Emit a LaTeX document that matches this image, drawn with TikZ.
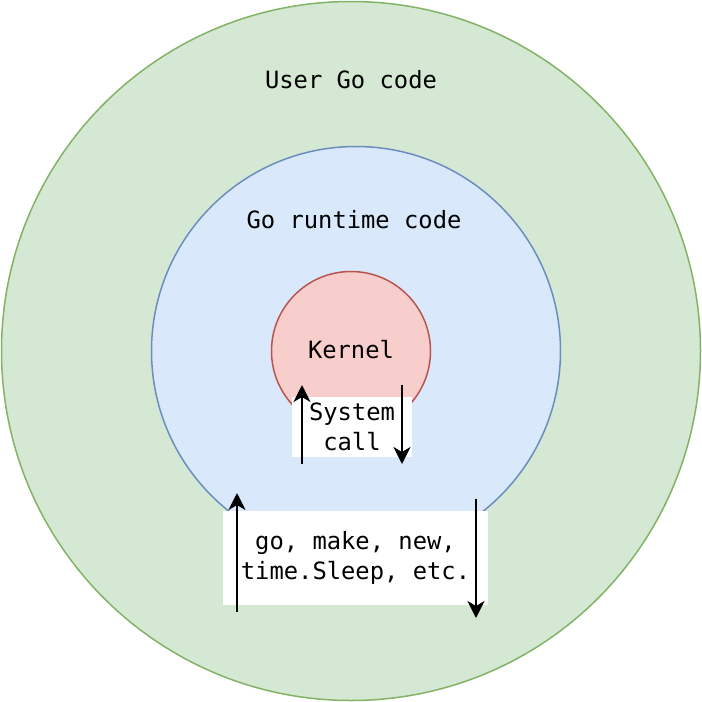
\documentclass[tikz,border=0pt]{standalone}
\usepackage{fontspec}
\setmonofont{DejaVu Sans Mono}
\usetikzlibrary{arrows.meta}

\definecolor{userfill}{HTML}{D5E8D4}
\definecolor{userline}{HTML}{82B366}
\definecolor{runfill}{HTML}{DAE8FC}
\definecolor{runline}{HTML}{6C8EBF}
\definecolor{kernfill}{HTML}{F8CECC}
\definecolor{kernline}{HTML}{B85450}

\tikzset{
    ring/.style={circle, draw, line width=1.5pt, inner sep=0pt},
    labelbox/.style={fill=white, inner sep=0pt, align=center},
    flow/.style={line width=2.2pt, -{Stealth[length=17pt, width=17pt, inset=5pt]}}
}

\begin{document}
\begin{tikzpicture}[x=1pt, y=-1pt, every node/.style={font=\ttfamily\fontsize{23.8}{30}\selectfont}]
    \useasboundingbox (0,0) rectangle (702,702);

    % Draw rings
    \node[ring, draw=userline, fill=userfill, minimum size=699pt] (user) at (351,351) {};
    \node[ring, draw=runline, fill=runfill, minimum size=409pt] (runtime) at (356,351) {};
    \node[ring, draw=kernline, fill=kernfill, minimum size=159pt] (kernel) at (351,351) {};

    % Ring labels
    \node (usertext) at (351,80) {User Go code};
    \node (runtimetext) at (354,220) {Go runtime code};
    \node (kerneltext) at (351,350) {Kernel};

    % Call boxes
    \node[labelbox, minimum width=120pt, minimum height=60pt] (sysbox) at (352,427) {System\\call};
    \node[labelbox, minimum width=265pt, minimum height=94pt] (gobox) at (355.5,558) {go, make, new,\\time.Sleep, etc.};

    % Call arrows
    \foreach \name/\x/\ya/\yb in {sysup/302/464/385, sysdown/402/385/464, goup/237/612/493, godown/476/499/618} {
        \coordinate (\name-a) at (\x,\ya);
        \coordinate (\name-b) at (\x,\yb);
        \draw[flow] (\name-a) -- (\name-b);
    }
\end{tikzpicture}
\end{document}
